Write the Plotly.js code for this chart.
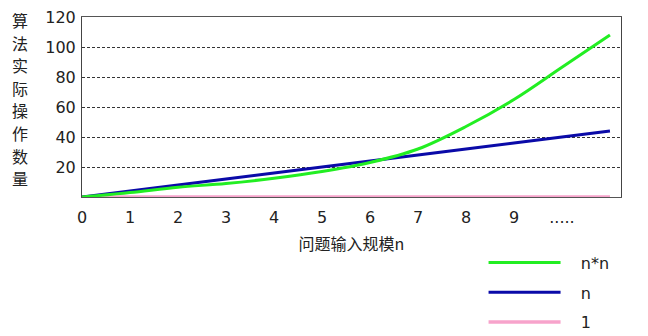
<!DOCTYPE html>
<html>
<head>
<meta charset="utf-8">
<script src="https://cdn.plot.ly/plotly-3.0.1.min.js"></script>
<style>html,body{margin:0;padding:0;background:#fff;}#chart{width:648px;height:336px;}</style>
</head>
<body>
<div id="chart"></div>
<script>
const nValues = [0, 1, 2, 3, 4, 5, 6, 7, 8, 9, 10, 11];
const squareSeries = [0, 3, 6.5, 9, 12.5, 17, 23, 32, 47, 65, 86.5, 108];
const linearSeries = [0, 4, 8, 12, 16, 20, 24, 28, 32, 36, 40, 44];
const constantSeries = [0, 0, 0, 0, 0, 0, 0, 0, 0, 0, 0, 0];
const seriesNames = ['n*n', 'n', '1'];
const xTickVals = [0, 1, 2, 3, 4, 5, 6, 7, 8, 9, 10];
const xTickText = ['0', '1', '2', '3', '4', '5', '6', '7', '8', '9', '.....'];
const yTickVals = [20, 40, 60, 80, 100, 120];
const yTitleChars = ['算', '法', '实', '际', '操', '作', '数', '量'];
const xTitle = '问题输入规模n';

const cjk = '"Noto Sans CJK SC", "Noto Sans", sans-serif';
const num = '"DejaVu Sans", "Noto Sans", sans-serif';
const pad = '\u00a0\u00a0\u00a0';

const traces = [
  {x: nValues, y: constantSeries, name: pad + seriesNames[2], legendgroup: 'c', legendrank: 3, mode: 'lines',
   line: {color: '#f7a3cb', width: 3.5}},
  {x: nValues, y: linearSeries, name: pad + seriesNames[1], legendgroup: 'b', legendrank: 2, mode: 'lines',
   line: {color: '#0a0aa8', width: 3, shape: 'spline'}},
  {x: nValues, y: squareSeries, name: pad + seriesNames[0], legendgroup: 'a', legendrank: 1, mode: 'lines',
   line: {color: '#22ee22', width: 3, shape: 'spline'}}
];

const annotations = yTitleChars.map((ch, i) => ({
  text: ch, xref: 'paper', yref: 'paper', x: -0.115, y: (177 - i * 22.6) / 180,
  xanchor: 'center', yanchor: 'middle', showarrow: false, borderpad: 0,
  font: {family: cjk, size: 16, color: '#222'}
}));

const layout = {
  width: 648, height: 336,
  margin: {l: 82, r: 27, t: 17, b: 139, autoexpand: false},
  paper_bgcolor: '#fff', plot_bgcolor: '#fff',
  showlegend: true,
  legend: {x: 0.745, y: -0.27, xanchor: 'left', yanchor: 'top', itemwidth: 72,
           tracegroupgap: 6, traceorder: 'grouped', font: {family: num, size: 16, color: '#222'},
           bgcolor: 'rgba(0,0,0,0)'},
  xaxis: {range: [0, 11.23], tickvals: xTickVals, ticktext: xTickText, showgrid: false,
          zeroline: false, showline: true, mirror: true, linecolor: '#555', linewidth: 1,
          layer: 'below traces', ticks: '', ticklabelstandoff: 6,
          tickfont: {family: num, size: 16, color: '#222'},
          title: {text: xTitle, font: {family: cjk, size: 16, color: '#222'}, standoff: 12}},
  yaxis: {range: [0, 120], tickvals: yTickVals, showgrid: true, gridcolor: '#333', gridwidth: 1,
          griddash: '3px,2px', zeroline: false, showline: true, mirror: true, linecolor: '#444',
          linewidth: 1, layer: 'below traces', ticks: '', ticklabelstandoff: 2,
          tickfont: {family: num, size: 16, color: '#222'}},
  annotations: annotations
};

Plotly.newPlot('chart', traces, layout, {displayModeBar: false, staticPlot: true});
</script>
</body>
</html>
